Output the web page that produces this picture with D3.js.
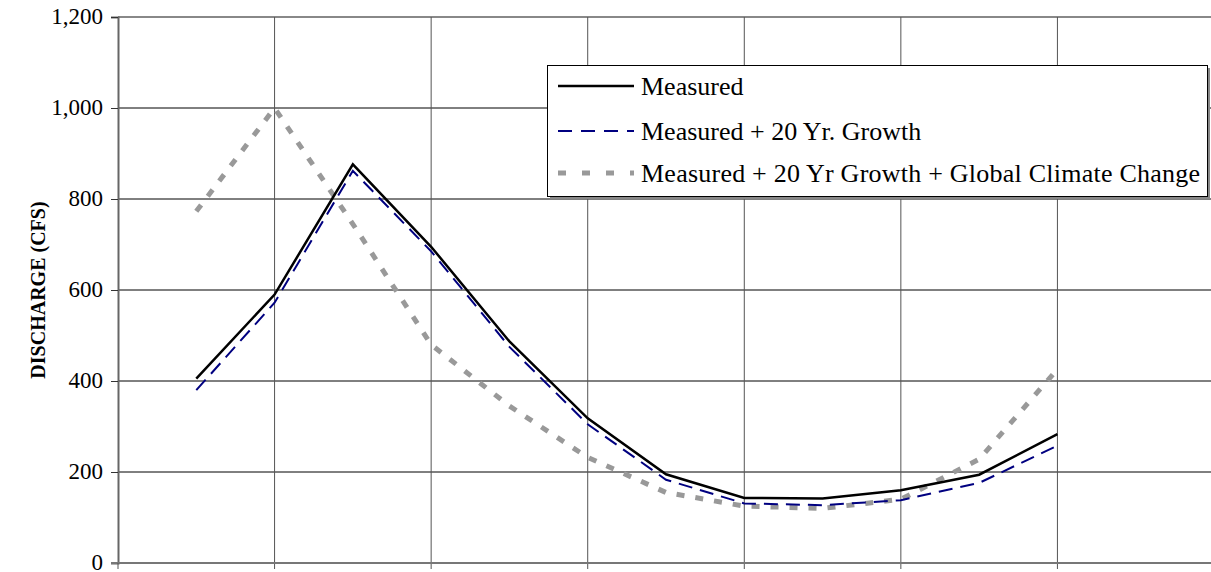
<!DOCTYPE html>
<html>
<head>
<meta charset="utf-8">
<script src="https://cdn.jsdelivr.net/npm/d3@7"></script>
<style>
  body { margin: 0; background: #fff; }
  svg { display: block; font-family: "Liberation Serif", "Times New Roman", serif; }
</style>
</head>
<body>
<svg></svg>
<script>
// month index 1..12
let months = [1, 2, 3, 4, 5, 6, 7, 8, 9, 10, 11, 12];
let measured = [405, 590, 876, 695, 487, 318, 195, 143, 142, 160, 194, 283];
let growth = [380, 572, 862, 685, 475, 305, 183, 131, 127, 138, 176, 258];
let climate = [773, 1000, 745, 480, 345, 232, 155, 125, 120, 140, 228, 426];
let yTicks = [0, 200, 400, 600, 800, 1000, 1200];
let seriesNames = ["Measured", "Measured + 20 Yr. Growth", "Measured + 20 Yr Growth + Global Climate Change"];

let width = 1211,
    height = 572;

let svg = d3.select('svg')
    .attr('width', width)
    .attr('height', height);

let x = d3.scaleLinear().domain([0, 14]).range([118, 1214]);
let y = d3.scaleLinear().domain([0, 1200]).range([563, 17]);

// horizontal gridlines
svg.append('g').selectAll('line')
    .data(yTicks).enter()
    .append('line')
    .attr('x1', x(0)).attr('x2', width)
    .attr('y1', d => y(d)).attr('y2', d => y(d))
    .attr('stroke', d => d === 1200 ? '#888' : '#000')
    .attr('stroke-width', d => d === 1200 ? 2 : 1);

// vertical gridlines
let xGrid = [2, 4, 6, 8, 10, 12];
svg.append('g').selectAll('line')
    .data(xGrid).enter()
    .append('line')
    .attr('x1', d => x(d)).attr('x2', d => x(d))
    .attr('y1', y(1200)).attr('y2', y(0) + 6)
    .attr('stroke', '#555')
    .attr('stroke-width', 1);

// y axis
let yAxis = d3.axisLeft(y)
    .tickValues(yTicks)
    .tickSize(7)
    .tickPadding(8)
    .tickFormat(d3.format(','));
let ya = svg.append('g')
    .attr('transform', 'translate(' + x(0) + ',0)')
    .call(yAxis);
ya.select('.domain').attr('stroke', '#666').attr('stroke-width', 2);
ya.selectAll('.tick line').attr('stroke', '#333');
ya.selectAll('.tick text')
    .attr('font-family', '"Liberation Serif", serif')
    .attr('font-size', 23)
    .attr('dy', '0.3em')
    .attr('fill', '#000');

// x axis line
svg.append('line')
    .attr('x1', x(0) - 7).attr('x2', width)
    .attr('y1', y(0)).attr('y2', y(0))
    .attr('stroke', '#777').attr('stroke-width', 2);
svg.append('line')
    .attr('x1', x(0)).attr('x2', x(0))
    .attr('y1', y(0)).attr('y2', y(0) + 6)
    .attr('stroke', '#555');

// y label
svg.append('text')
    .attr('transform', 'translate(45,' + ((y(0) + y(1200)) / 2) + ') rotate(-90)')
    .attr('text-anchor', 'middle')
    .attr('font-weight', 'bold')
    .attr('font-size', 20)
    .text('DISCHARGE (CFS)');

let line = d3.line()
    .x((d, i) => x(months[i]))
    .y(d => y(d));

let styles = [
    { color: '#000', width: 2.5, dash: null },
    { color: '#000080', width: 2, dash: '14,8' },
    { color: '#999', width: 5, dash: '8,11' }
];
let allSeries = [measured, growth, climate];

// draw back to front
for (let k = 2; k >= 0; k--) {
    svg.append('path')
        .datum(allSeries[k])
        .attr('d', line)
        .attr('fill', 'none')
        .attr('stroke', styles[k].color)
        .attr('stroke-width', styles[k].width)
        .attr('stroke-dasharray', styles[k].dash);
}

// legend
let legend = svg.append('g');
legend.append('rect')
    .attr('x', 550).attr('y', 68)
    .attr('width', 660).attr('height', 131)
    .attr('fill', '#888');
legend.append('rect')
    .attr('x', 547.5).attr('y', 65.5)
    .attr('width', 660).attr('height', 131)
    .attr('fill', '#fff')
    .attr('stroke', '#000')
    .attr('stroke-width', 1);

let rowY = [86, 131, 173];
seriesNames.forEach((name, i) => {
    legend.append('line')
        .attr('x1', 558).attr('x2', 634)
        .attr('y1', rowY[i]).attr('y2', rowY[i])
        .attr('stroke', styles[i].color)
        .attr('stroke-width', styles[i].width)
        .attr('stroke-dasharray', i === 1 ? '14,9' : (i === 2 ? '8,16' : null));
    legend.append('text')
        .attr('x', 641).attr('y', rowY[i])
        .attr('dy', '0.35em')
        .attr('font-size', 26)
        .attr('textLength', i === 2 ? 559 : null)
        .text(name);
});
</script>
</body>
</html>
